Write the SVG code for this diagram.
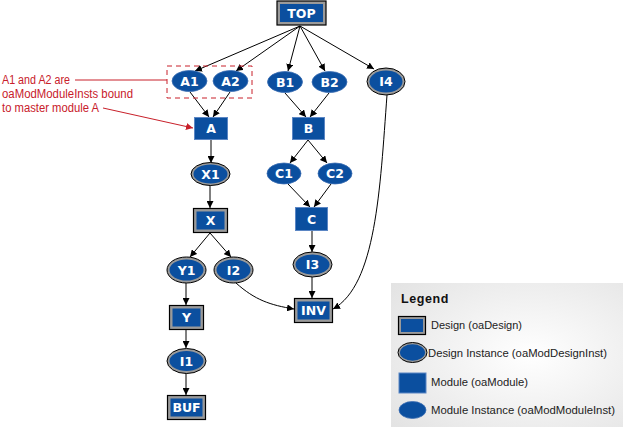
<svg xmlns="http://www.w3.org/2000/svg" width="623" height="427" viewBox="0 0 623 427">
<defs>
<marker id="arr" viewBox="0 0 10 10" refX="10" refY="5" markerWidth="7" markerHeight="7" orient="auto" markerUnits="userSpaceOnUse">
<path d="M0,0 L10,5 L0,10 z" fill="#000"/>
</marker>
<marker id="arrRed" viewBox="0 0 10 10" refX="10" refY="5" markerWidth="7" markerHeight="7" orient="auto" markerUnits="userSpaceOnUse">
<path d="M0,0 L10,5 L0,10 z" fill="#c8202a"/>
</marker>
<radialGradient id="lg" cx="0.6" cy="0.5" r="0.8">
<stop offset="0" stop-color="#ffffff"/>
<stop offset="1" stop-color="#e2e2e2"/>
</radialGradient>
</defs>
<style>
.d-out{fill:#9a9a9a;stroke:#000;stroke-width:1.2}
.d-in{fill:#0b4f9f}
.m{fill:#0b4f9f;stroke:#5b86c4;stroke-width:1}
.mi{fill:#0b4f9f;stroke:#3b6db3;stroke-width:0.8}
.lbl{font-family:"DejaVu Sans",Verdana,sans-serif;font-weight:bold;font-size:12.5px;fill:#fff;text-anchor:middle}
.e{fill:none;stroke:#000;stroke-width:1;marker-end:url(#arr)}
.red{font-family:"Liberation Sans",Arial,sans-serif;font-size:12px;fill:#c8202a}
.lt{font-family:"Liberation Sans",Arial,sans-serif;font-size:11.5px;fill:#222}
</style>
<rect width="623" height="427" fill="#fff"/>

<!-- legend background -->
<rect id="legend-bg" x="391" y="283" width="232" height="144" fill="url(#lg)"/>

<g id="connectors">
<path class="e" d="M300,26 L195,71"/>
<path class="e" d="M300,26 L236,71"/>
<path class="e" d="M300,26 L288,71"/>
<path class="e" d="M300,26 L325,71"/>
<path class="e" d="M300,26 L374,69"/>
<path class="e" d="M190,92 L209,117"/>
<path class="e" d="M230,92 L213,117"/>
<path class="e" d="M285,93 L306,117"/>
<path class="e" d="M329,93 L310,117"/>
<path class="e" d="M211,140 L211,163"/>
<path class="e" d="M308,140 L290,163"/>
<path class="e" d="M308,140 L327,163"/>
<path class="e" d="M210,185 L210,208"/>
<path class="e" d="M288,184 L310,207"/>
<path class="e" d="M331,184 L314,207"/>
<path class="e" d="M210,233 L190,257"/>
<path class="e" d="M210,233 L231,257"/>
<path class="e" d="M312,231 L312,252"/>
<path class="e" d="M186,283 L186,305"/>
<path class="e" d="M236,283 C255,300 270,305 294,309"/>
<path class="e" d="M312,277 L312,298"/>
<path class="e" d="M387,95 C380,190 376,285 333,309"/>
<path class="e" d="M186,329 L186,348"/>
<path class="e" d="M186,373 L186,395"/>
</g>

<g id="annotation">
<rect x="167" y="66" width="85" height="32" fill="none" stroke="#c8202a" stroke-width="1" stroke-dasharray="5,4"/>
<text class="red" x="2" y="84" textLength="68" lengthAdjust="spacingAndGlyphs">A1 and A2 are</text>
<text class="red" x="2" y="98" textLength="131" lengthAdjust="spacingAndGlyphs">oaModModuleInsts bound</text>
<text class="red" x="2" y="112" textLength="97" lengthAdjust="spacingAndGlyphs">to master module A</text>
<path d="M75,80 L167,80" stroke="#c8202a" stroke-width="1" fill="none"/>
<path d="M103,108 L193,128" stroke="#c8202a" stroke-width="1" fill="none" marker-end="url(#arrRed)"/>
</g>

<g id="TOP"><rect class="d-out" x="277" y="1" width="49" height="24"/><rect class="d-in" x="280" y="4" width="43" height="18"/><text class="lbl" x="301.5" y="18">TOP</text></g>
<g id="A1"><ellipse class="mi" cx="189.5" cy="81" rx="17.5" ry="10.5"/><text class="lbl" x="189.5" y="85.5">A1</text></g>
<g id="A2"><ellipse class="mi" cx="230.5" cy="81" rx="17.5" ry="10.5"/><text class="lbl" x="230.5" y="85.5">A2</text></g>
<g id="B1"><ellipse class="mi" cx="285" cy="82" rx="17.5" ry="10.5"/><text class="lbl" x="285" y="86.5">B1</text></g>
<g id="B2"><ellipse class="mi" cx="329.5" cy="82" rx="17.5" ry="10.5"/><text class="lbl" x="329.5" y="86.5">B2</text></g>
<g id="I4"><ellipse cx="386" cy="81.5" rx="19" ry="13.5" fill="#9a9a9a" stroke="#000" stroke-width="1"/><ellipse class="d-in" cx="386" cy="81.5" rx="16.5" ry="11"/><text class="lbl" x="386" y="86">I4</text></g>
<g id="A"><rect class="m" x="194.5" y="117.5" width="33" height="22"/><text class="lbl" x="211" y="133">A</text></g>
<g id="B"><rect class="m" x="292.5" y="117.5" width="32" height="22"/><text class="lbl" x="308.5" y="133">B</text></g>
<g id="X1"><ellipse cx="210.5" cy="174" rx="19.5" ry="11.5" fill="#9a9a9a" stroke="#000" stroke-width="1"/><ellipse class="d-in" cx="210.5" cy="174" rx="17" ry="9.5"/><text class="lbl" x="210.5" y="178.5">X1</text></g>
<g id="C1"><ellipse class="mi" cx="284" cy="173.5" rx="17" ry="10.5"/><text class="lbl" x="284" y="178">C1</text></g>
<g id="C2"><ellipse class="mi" cx="335" cy="173.5" rx="17" ry="10.5"/><text class="lbl" x="335" y="178">C2</text></g>
<g id="X"><rect class="d-out" x="193.5" y="208.5" width="34" height="24"/><rect class="d-in" x="196.5" y="211.5" width="28" height="18"/><text class="lbl" x="210.5" y="225">X</text></g>
<g id="C"><rect class="m" x="295.5" y="207.5" width="32" height="23"/><text class="lbl" x="311.5" y="223.5">C</text></g>
<g id="Y1"><ellipse cx="186.5" cy="270" rx="19.5" ry="13" fill="#9a9a9a" stroke="#000" stroke-width="1"/><ellipse class="d-in" cx="186.5" cy="270" rx="17" ry="10.5"/><text class="lbl" x="186.5" y="274.5">Y1</text></g>
<g id="I2"><ellipse cx="233.5" cy="270" rx="19.5" ry="13" fill="#9a9a9a" stroke="#000" stroke-width="1"/><ellipse class="d-in" cx="233.5" cy="270" rx="17" ry="10.5"/><text class="lbl" x="233.5" y="274.5">I2</text></g>
<g id="I3"><ellipse cx="312.5" cy="264.5" rx="19.5" ry="12.5" fill="#9a9a9a" stroke="#000" stroke-width="1"/><ellipse class="d-in" cx="312.5" cy="264.5" rx="17" ry="10"/><text class="lbl" x="312.5" y="269">I3</text></g>
<g id="INV"><rect class="d-out" x="294.5" y="298.5" width="38" height="24"/><rect class="d-in" x="297.5" y="301.5" width="32" height="18"/><text class="lbl" x="313.5" y="315">INV</text></g>
<g id="Y"><rect class="d-out" x="169.5" y="305.5" width="34" height="24"/><rect class="d-in" x="172.5" y="308.5" width="28" height="18"/><text class="lbl" x="186.5" y="322">Y</text></g>
<g id="I1"><ellipse cx="186.5" cy="361" rx="19.5" ry="12.5" fill="#9a9a9a" stroke="#000" stroke-width="1"/><ellipse class="d-in" cx="186.5" cy="361" rx="17" ry="10"/><text class="lbl" x="186.5" y="365.5">I1</text></g>
<g id="BUF"><rect class="d-out" x="167.5" y="395.5" width="38" height="24"/><rect class="d-in" x="170.5" y="398.5" width="32" height="18"/><text class="lbl" x="186.5" y="412">BUF</text></g>

<g id="legend">
<text x="401" y="303" font-family="Liberation Sans,Arial,sans-serif" font-weight="bold" font-size="12.5" fill="#111" letter-spacing="0.6">Legend</text>
<rect class="d-out" x="398.5" y="316.5" width="27" height="18"/><rect class="d-in" x="401" y="319" width="22" height="13"/>
<text class="lt" x="431" y="329" textLength="91" lengthAdjust="spacingAndGlyphs">Design (oaDesign)</text>
<ellipse cx="412.5" cy="352.5" rx="14.5" ry="10" fill="#9a9a9a" stroke="#000" stroke-width="1"/><ellipse class="d-in" cx="412.5" cy="352.5" rx="12.5" ry="8.2"/>
<text class="lt" x="428" y="357" textLength="179" lengthAdjust="spacingAndGlyphs">Design Instance (oaModDesignInst)</text>
<rect class="m" x="399" y="373" width="27" height="20"/>
<text class="lt" x="431" y="386" textLength="97" lengthAdjust="spacingAndGlyphs">Module (oaModule)</text>
<ellipse class="mi" cx="412.5" cy="410" rx="13.5" ry="8.5"/>
<text class="lt" x="431" y="414" textLength="184" lengthAdjust="spacingAndGlyphs">Module Instance (oaModModuleInst)</text>
</g>
</svg>
